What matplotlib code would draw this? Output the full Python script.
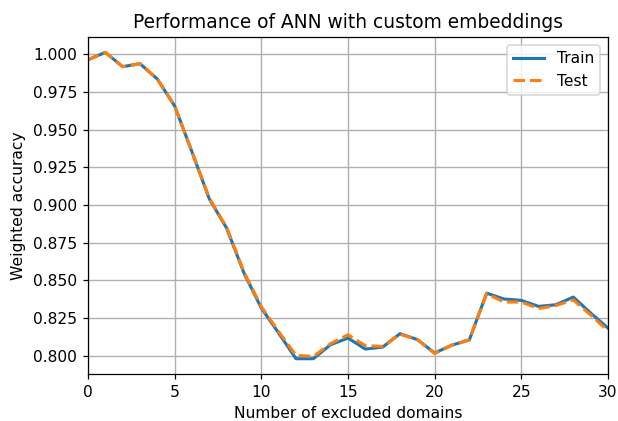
import matplotlib
matplotlib.use("Agg")
import matplotlib.pyplot as plt

excluded = list(range(31))
train_acc = [0.9964, 1.0013, 0.9918, 0.9938, 0.9836, 0.9657, 0.9352, 0.9040, 0.8846, 0.8548,
             0.8316, 0.8150, 0.7980, 0.7980, 0.8073, 0.8117, 0.8044, 0.8057, 0.8146, 0.8107,
             0.8018, 0.8070, 0.8105, 0.8415, 0.8376, 0.8367, 0.8327, 0.8338, 0.8389, 0.8283,
             0.8183]
test_acc = [0.9964, 1.0013, 0.9918, 0.9938, 0.9836, 0.9657, 0.9352, 0.9045, 0.8850, 0.8555,
            0.8325, 0.8160, 0.8002, 0.7995, 0.8080, 0.8139, 0.8066, 0.8062, 0.8142, 0.8107,
            0.8015, 0.8070, 0.8105, 0.8412, 0.8356, 0.8356, 0.8313, 0.8333, 0.8370, 0.8270,
            0.8165]

DPI = 112
fig, ax = plt.subplots(figsize=(618 / DPI, 421 / DPI), dpi=DPI)
fig.subplots_adjust(left=0.1424, right=0.9838, top=0.912, bottom=0.1116)

ax.plot(excluded, train_acc, color="#1f77b4", lw=2, label="Train")
ax.plot(excluded, test_acc, color="#ff7f0e", lw=2, ls="--", label="Test")

ax.set_xlim(0, 30)
ax.set_xticks([0, 5, 10, 15, 20, 25, 30])
ax.set_yticks([0.800, 0.825, 0.850, 0.875, 0.900, 0.925, 0.950, 0.975, 1.000])
ax.yaxis.set_major_formatter(matplotlib.ticker.FormatStrFormatter("%.3f"))
ax.grid(True, color="#b0b0b0", lw=0.9)
ax.set_axisbelow(True)

ax.set_title("Performance of ANN with custom embeddings", fontsize=12)
ax.set_xlabel("Number of excluded domains")
ax.set_ylabel("Weighted accuracy")
ax.legend(loc="upper right")

fig.savefig("out.png", dpi=DPI)
